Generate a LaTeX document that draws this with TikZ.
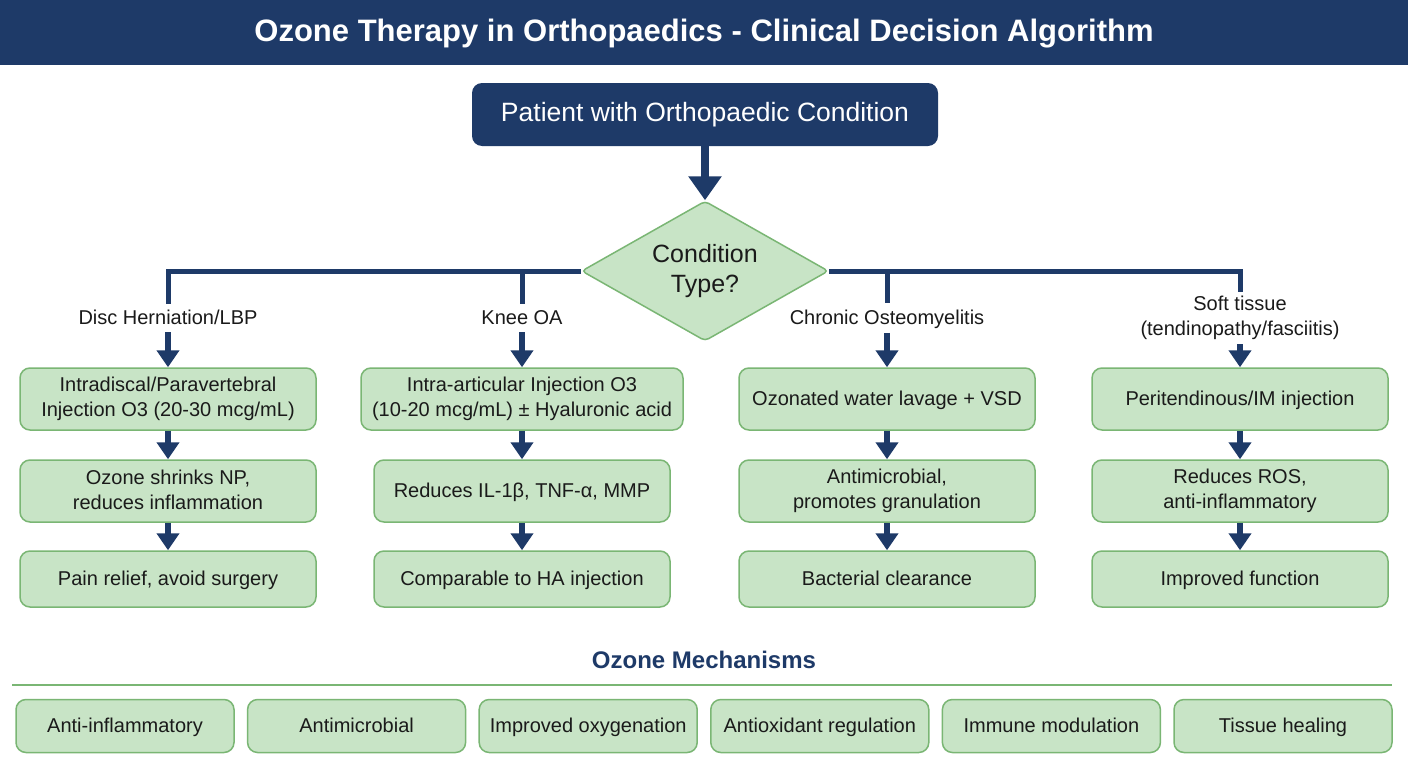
\documentclass[tikz,border=0pt]{standalone}
\usepackage{fontspec}
\setmainfont{Liberation Sans}
\usepackage{tikz}
\usetikzlibrary{shapes.geometric,arrows.meta,positioning}
\definecolor{navy}{RGB}{30,58,104}
\definecolor{leaf}{RGB}{200,228,198}
\definecolor{leafline}{RGB}{122,182,116}
\definecolor{ink}{RGB}{26,26,26}
\newcommand{\topstrut}{\rule{0pt}{17pt}}
\newcommand{\botstrut}{\rule[-3.5pt]{0pt}{3.5pt}}
\tikzstyle{stepbox}=[draw=leafline, line width=1.5pt, fill=leaf, rounded corners=10pt, text=ink, align=center, font=\fontsize{20}{25}\selectfont, inner sep=0pt, minimum width=296pt, minimum height=62pt, execute at begin node=\topstrut, execute at end node=\botstrut]
\tikzstyle{mechbox}=[stepbox, minimum width=218pt, minimum height=53pt]
\tikzstyle{branch}=[text=ink, align=center, font=\fontsize{20}{25}\selectfont, inner sep=4pt, execute at begin node=\topstrut, execute at end node=\botstrut]
\tikzstyle{flow}=[draw=navy, line width=6pt, -{Triangle[width=22pt,length=17pt]}]
\tikzstyle{bus}=[draw=navy, line width=5pt]

\begin{document}
\begin{tikzpicture}[x=1pt, y=-1pt]

\path[use as bounding box, fill=white] (0,0) rectangle (1408,768);

% title
\fill[navy] (0,0) rectangle (1408,65);
\node[text=white, font=\bfseries\fontsize{31}{36}\selectfont] (title) at (704,34) {Ozone Therapy in Orthopaedics - Clinical Decision Algorithm};

% start and decision
\node[fill=navy, rounded corners=10pt, text=white, minimum width=466pt, minimum height=63pt, font=\fontsize{26.5}{30}\selectfont] (patient) at (705,114.5) {Patient with Orthopaedic Condition};
\node[diamond, draw=leafline, fill=leaf, line width=1.5pt, aspect=1.76, inner sep=0pt, minimum width=247pt, minimum height=140pt, rounded corners=4pt, text=ink, align=center, font=\fontsize{25}{30}\selectfont] (type) at (705,271) {Condition\\Type?};
\draw[navy, line width=8pt, -{Triangle[width=32pt,length=24pt]}] (patient.south) -- (type.north);

% branches
\node[branch] (ld) at (168,318) {Disc Herniation/LBP};
\node[branch] (lk) at (522,318) {Knee OA};
\node[branch] (lo) at (887,318) {Chronic Osteomyelitis};
\node[branch] (ls) at (1240,318) {Soft tissue\\(tendinopathy/fasciitis)};

\draw[bus] (type.west) -| (ld.north);
\draw[bus] (type.east) -| (ls.north);
\draw[bus] (type.west -| lk.north) -- (lk.north);
\draw[bus] (type.east -| lo.north) -- (lo.north);

% disc herniation
\node[stepbox] (d1) at (168,399) {Intradiscal/Paravertebral\\Injection O3 (20-30 mcg/mL)};
\node[stepbox] (d2) at (168,491) {Ozone shrinks NP,\\reduces inflammation};
\node[stepbox, minimum height=56pt] (d3) at (168,579) {Pain relief, avoid surgery};

% knee OA
\node[stepbox, minimum width=322pt] (k1) at (522,399) {Intra-articular Injection O3\\(10-20 mcg/mL) \textpm{} Hyaluronic acid};
\node[stepbox] (k2) at (522,491) {Reduces IL-1β, TNF-α, MMP};
\node[stepbox, minimum height=56pt] (k3) at (522,579) {Comparable to HA injection};

% osteomyelitis
\node[stepbox] (o1) at (887,399) {Ozonated water lavage + VSD};
\node[stepbox] (o2) at (887,491) {Antimicrobial,\\promotes granulation};
\node[stepbox, minimum height=56pt] (o3) at (887,579) {Bacterial clearance};

% soft tissue
\node[stepbox] (s1) at (1240,399) {Peritendinous/IM injection};
\node[stepbox] (s2) at (1240,491) {Reduces ROS,\\anti-inflammatory};
\node[stepbox, minimum height=56pt] (s3) at (1240,579) {Improved function};

\foreach \c in {d,k,o,s} {
    \draw[flow] (l\c.south) -- (\c1.north);
    \draw[flow] (\c1.south) -- (\c2.north);
    \draw[flow] (\c2.south) -- (\c3.north);
}

% mechanisms
\node[text=navy, font=\bfseries\fontsize{24}{28}\selectfont] (mech) at (704,660) {Ozone Mechanisms};
\draw[leafline, line width=2pt] (12,685) -- (1392,685);
\foreach \name [count=\i from 0] in {Anti-inflammatory, Antimicrobial, Improved oxygenation, Antioxidant regulation, Immune modulation, Tissue healing}
    \node[mechbox] (m\i) at ({125+231.6*\i},726) {\name};

\end{tikzpicture}
\end{document}
